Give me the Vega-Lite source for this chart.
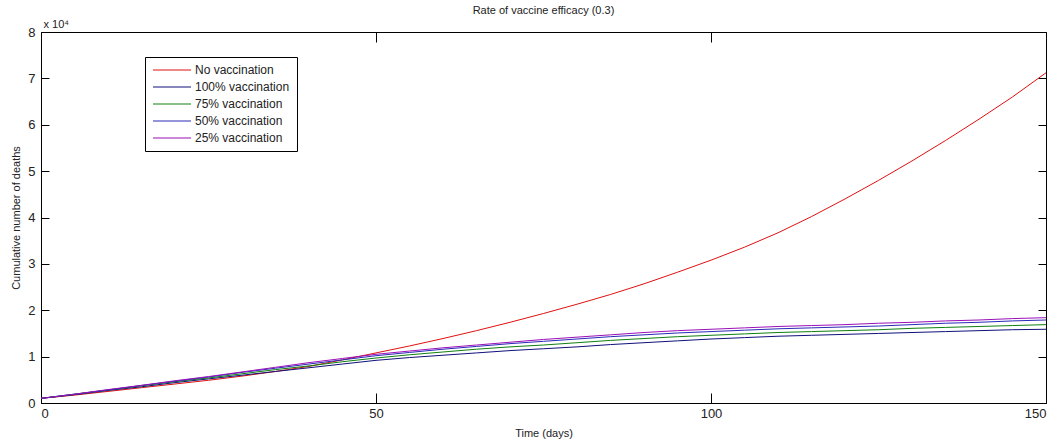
{
  "$schema": "https://vega.github.io/schema/vega-lite/v6.json",
  "width": 1005,
  "height": 371,
  "autosize": {"type": "none"},
  "padding": {"left": 41, "top": 32, "right": 16, "bottom": 40},
  "background": "white",
  "config": {
    "font": "Liberation Sans",
    "view": {"stroke": "black", "strokeWidth": 1},
    "legend": {"strokeColor": "black", "fillColor": "white"},
    "axis": {
      "domain": false,
      "grid": false,
      "ticks": true,
      "tickColor": "black",
      "tickSize": -9,
      "labelColor": "#222222",
      "labelFontSize": 13,
      "titleColor": "#222222",
      "titleFontSize": 11,
      "titleFontWeight": "normal"
    }
  },
  "title": {
    "text": "Rate of vaccine efficacy (0.3)",
    "fontSize": 11,
    "fontWeight": "normal",
    "color": "#222222",
    "anchor": "middle",
    "offset": 2
  },
  "data": {
    "values": [
      {"day": 0, "No vaccination": 1000, "100% vaccination": 1000, "75% vaccination": 1000, "50% vaccination": 1000, "25% vaccination": 1000},
      {"day": 5, "No vaccination": 1700, "100% vaccination": 1800, "75% vaccination": 1900, "50% vaccination": 1900, "25% vaccination": 1900},
      {"day": 10, "No vaccination": 2500, "100% vaccination": 2700, "75% vaccination": 2800, "50% vaccination": 2800, "25% vaccination": 2900},
      {"day": 15, "No vaccination": 3300, "100% vaccination": 3500, "75% vaccination": 3700, "50% vaccination": 3800, "25% vaccination": 3800},
      {"day": 20, "No vaccination": 4100, "100% vaccination": 4400, "75% vaccination": 4600, "50% vaccination": 4700, "25% vaccination": 4800},
      {"day": 25, "No vaccination": 4900, "100% vaccination": 5200, "75% vaccination": 5400, "50% vaccination": 5600, "25% vaccination": 5700},
      {"day": 30, "No vaccination": 5800, "100% vaccination": 6000, "75% vaccination": 6300, "50% vaccination": 6600, "25% vaccination": 6700},
      {"day": 35, "No vaccination": 6800, "100% vaccination": 6800, "75% vaccination": 7200, "50% vaccination": 7500, "25% vaccination": 7700},
      {"day": 40, "No vaccination": 7900, "100% vaccination": 7600, "75% vaccination": 8000, "50% vaccination": 8400, "25% vaccination": 8700},
      {"day": 45, "No vaccination": 9300, "100% vaccination": 8400, "75% vaccination": 8900, "50% vaccination": 9300, "25% vaccination": 9600},
      {"day": 50, "No vaccination": 10800, "100% vaccination": 9200, "75% vaccination": 9700, "50% vaccination": 10200, "25% vaccination": 10500},
      {"day": 55, "No vaccination": 12300, "100% vaccination": 9800, "75% vaccination": 10400, "50% vaccination": 10900, "25% vaccination": 11200},
      {"day": 60, "No vaccination": 13900, "100% vaccination": 10300, "75% vaccination": 11000, "50% vaccination": 11600, "25% vaccination": 11900},
      {"day": 65, "No vaccination": 15600, "100% vaccination": 10800, "75% vaccination": 11600, "50% vaccination": 12200, "25% vaccination": 12500},
      {"day": 70, "No vaccination": 17400, "100% vaccination": 11300, "75% vaccination": 12100, "50% vaccination": 12800, "25% vaccination": 13100},
      {"day": 75, "No vaccination": 19300, "100% vaccination": 11700, "75% vaccination": 12500, "50% vaccination": 13300, "25% vaccination": 13700},
      {"day": 80, "No vaccination": 21300, "100% vaccination": 12100, "75% vaccination": 13000, "50% vaccination": 13800, "25% vaccination": 14200},
      {"day": 85, "No vaccination": 23400, "100% vaccination": 12600, "75% vaccination": 13500, "50% vaccination": 14300, "25% vaccination": 14700},
      {"day": 90, "No vaccination": 25700, "100% vaccination": 13000, "75% vaccination": 13900, "50% vaccination": 14700, "25% vaccination": 15200},
      {"day": 95, "No vaccination": 28200, "100% vaccination": 13400, "75% vaccination": 14300, "50% vaccination": 15100, "25% vaccination": 15600},
      {"day": 100, "No vaccination": 30800, "100% vaccination": 13800, "75% vaccination": 14600, "50% vaccination": 15400, "25% vaccination": 15900},
      {"day": 105, "No vaccination": 33600, "100% vaccination": 14100, "75% vaccination": 14900, "50% vaccination": 15700, "25% vaccination": 16200},
      {"day": 110, "No vaccination": 36700, "100% vaccination": 14400, "75% vaccination": 15200, "50% vaccination": 16000, "25% vaccination": 16500},
      {"day": 115, "No vaccination": 40200, "100% vaccination": 14600, "75% vaccination": 15400, "50% vaccination": 16200, "25% vaccination": 16700},
      {"day": 120, "No vaccination": 44000, "100% vaccination": 14800, "75% vaccination": 15600, "50% vaccination": 16400, "25% vaccination": 16900},
      {"day": 125, "No vaccination": 48000, "100% vaccination": 15000, "75% vaccination": 15800, "50% vaccination": 16600, "25% vaccination": 17200},
      {"day": 130, "No vaccination": 52200, "100% vaccination": 15200, "75% vaccination": 16100, "50% vaccination": 16900, "25% vaccination": 17400},
      {"day": 135, "No vaccination": 56600, "100% vaccination": 15400, "75% vaccination": 16300, "50% vaccination": 17200, "25% vaccination": 17700},
      {"day": 140, "No vaccination": 61200, "100% vaccination": 15600, "75% vaccination": 16500, "50% vaccination": 17400, "25% vaccination": 17900},
      {"day": 145, "No vaccination": 66000, "100% vaccination": 15800, "75% vaccination": 16700, "50% vaccination": 17700, "25% vaccination": 18200},
      {"day": 150, "No vaccination": 71200, "100% vaccination": 15900, "75% vaccination": 16900, "50% vaccination": 17900, "25% vaccination": 18400}
    ]
  },
  "transform": [
    {"fold": ["No vaccination", "100% vaccination", "75% vaccination", "50% vaccination", "25% vaccination"], "as": ["series", "deaths"]}
  ],
  "layer": [
    {
      "mark": {"type": "line", "strokeWidth": 1, "clip": true},
      "encoding": {
        "x": {
          "field": "day", "type": "quantitative",
          "scale": {"domain": [0, 150], "nice": false, "zero": false},
          "axis": {"orient": "bottom", "values": [0, 50, 100, 150], "title": "Time (days)", "labelPadding": 14, "titlePadding": 7, "tickSize": -10}
        },
        "y": {
          "field": "deaths", "type": "quantitative",
          "scale": {"domain": [0, 80000], "nice": false},
          "axis": {"orient": "left", "values": [0, 10000, 20000, 30000, 40000, 50000, 60000, 70000, 80000], "labelExpr": "datum.value / 10000", "title": "Cumulative number of deaths", "labelPadding": 14, "titlePadding": 6, "tickSize": -8}
        },
        "color": {
          "field": "series", "type": "nominal",
          "scale": {
            "domain": ["No vaccination", "100% vaccination", "75% vaccination", "50% vaccination", "25% vaccination"],
            "range": ["#e01010", "#10107a", "#108010", "#2a2ab8", "#9a10b8"]
          },
          "legend": {
            "title": null,
            "orient": "none",
            "legendX": 104,
            "legendY": 25,
            "padding": 7,
            "symbolType": "M-1,0H6.6",
            "symbolSize": 100,
            "symbolStrokeWidth": 1.2,
            "labelFontSize": 12,
            "labelColor": "#222222",
            "labelOffset": 31,
            "rowPadding": 5
          }
        },
        "order": {"field": "day"}
      }
    },
    {
      "mark": {"type": "rule", "opacity": 0},
      "encoding": {
        "x": {
          "field": "day", "type": "quantitative",
          "axis": {"orient": "top", "values": [0, 50, 100, 150], "labels": false, "title": "x 10⁴", "titleAnchor": "start", "titleAlign": "left", "titleX": 2, "titleY": -3, "titleFontSize": 11, "tickSize": -10}
        },
        "y": {
          "field": "deaths", "type": "quantitative",
          "axis": {"orient": "right", "values": [0, 10000, 20000, 30000, 40000, 50000, 60000, 70000, 80000], "labels": false, "title": null, "tickSize": -8}
        }
      }
    }
  ],
  "resolve": {"axis": {"x": "independent", "y": "independent"}}
}
